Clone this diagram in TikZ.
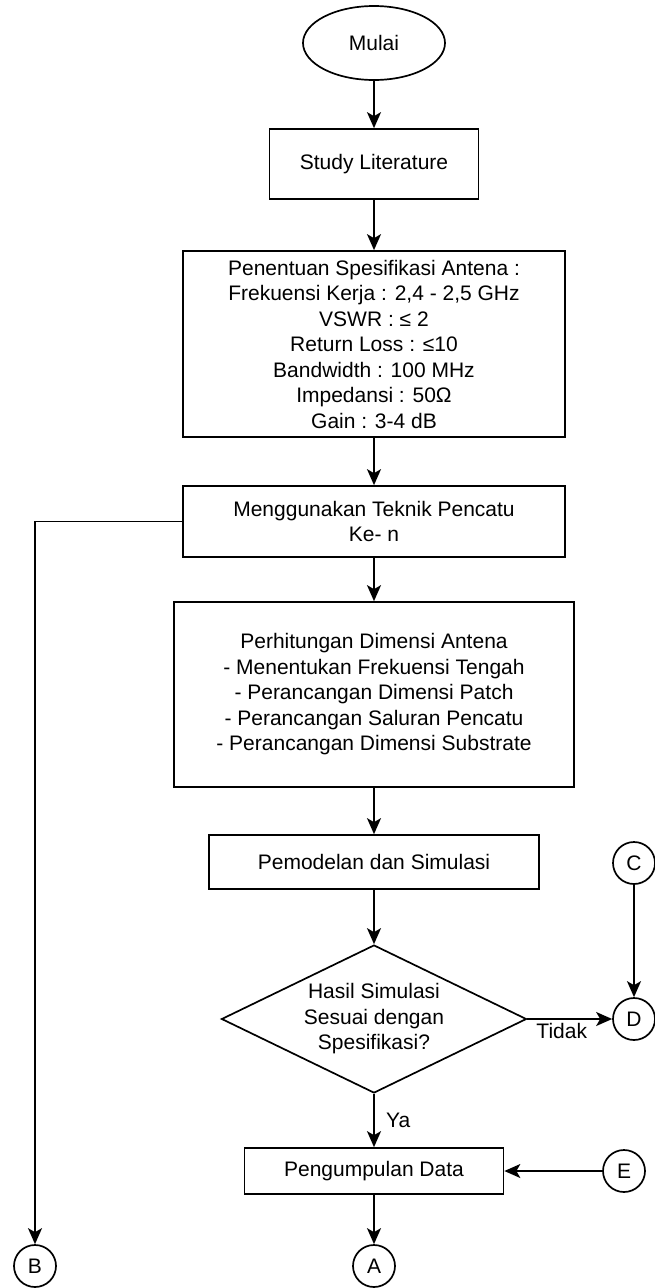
\documentclass[tikz,border=0pt]{standalone}
\usepackage{fontspec}
\setmainfont{Liberation Sans}
\usetikzlibrary{shapes.geometric,arrows.meta}

\begin{document}
\begin{tikzpicture}[
    x=1pt, y=-1pt,
    every node/.style={font=\fontsize{21}{25.5}\selectfont},
    terminal/.style={ellipse, draw, line width=1.7pt, minimum width=142pt, minimum height=74pt, inner sep=0pt},
    process/.style={rectangle, draw, line width=1.7pt, align=center, inner sep=0pt},
    decision/.style={diamond, draw, line width=1.7pt, align=center, aspect=2.06, minimum width=305pt, minimum height=148pt, inner sep=0pt},
    connector/.style={circle, draw, line width=1.7pt, minimum size=42pt, inner sep=0pt},
    arrow/.style={-{Stealth[length=16pt,width=14pt,inset=4pt]}, line width=1.7pt}
]
    \useasboundingbox (0,0) rectangle (654,1288);

    % Main column
    \node[terminal] (start) at (374,43) {Mulai};
    \node[process, minimum width=209pt, minimum height=70pt] (study) at (374,164) {Study Literature};
    \node[process, minimum width=382pt, minimum height=186pt] (spec) at (374,344) {Penentuan Spesifikasi Antena :\\Frekuensi Kerja : 2,4 - 2,5 GHz\\VSWR :  ≤ 2\\Return Loss :  ≤10\\Bandwidth : 100 MHz\\Impedansi : 50Ω\\Gain : 3-4 dB};
    \node[process, minimum width=382pt, minimum height=71pt] (feed) at (374,521.5) {Menggunakan Teknik Pencatu\\Ke- n};
    \node[process, minimum width=400pt, minimum height=185pt] (calc) at (374,694.5) {Perhitungan Dimensi Antena\\- Menentukan Frekuensi Tengah\\- Perancangan Dimensi Patch\\- Perancangan Saluran Pencatu\\- Perancangan Dimensi Substrate};
    \node[process, minimum width=330pt, minimum height=54pt] (model) at (374,862) {Pemodelan dan Simulasi};
    \node[decision] (check) at (374,1019) {Hasil Simulasi\\Sesuai dengan\\Spesifikasi?};
    \node[process, minimum width=259pt, minimum height=46pt] (data) at (374,1171) {Pengumpulan Data};

    % Off-page connectors
    \node[connector] (A) at (374,1266) {A};
    \node[connector] (B) at (35,1266) {B};
    \node[connector] (C) at (634,863) {C};
    \node[connector] (D) at (634,1019) {D};
    \node[connector] (E) at (624,1171) {E};

    % Forward path arrows
    \draw[arrow] (start) -- (study);
    \draw[arrow] (study) -- (spec);
    \draw[arrow] (spec) -- (feed);
    \draw[arrow] (feed) -- (calc);
    \draw[arrow] (calc) -- (model);
    \draw[arrow] (model) -- (check);
    \draw[arrow] (check) -- node[right, xshift=8pt] {Ya} (data);
    \draw[arrow] (data) -- (A);

    % Side branches
    \draw[arrow] (check.east) -- node[below, inner sep=3pt, xshift=-8pt] {Tidak} (D);
    \draw[arrow] (C) -- (D);
    \draw[arrow] (E) -- (data.east);
    \draw[arrow] (feed.west) -| (B);

\end{tikzpicture}
\end{document}
